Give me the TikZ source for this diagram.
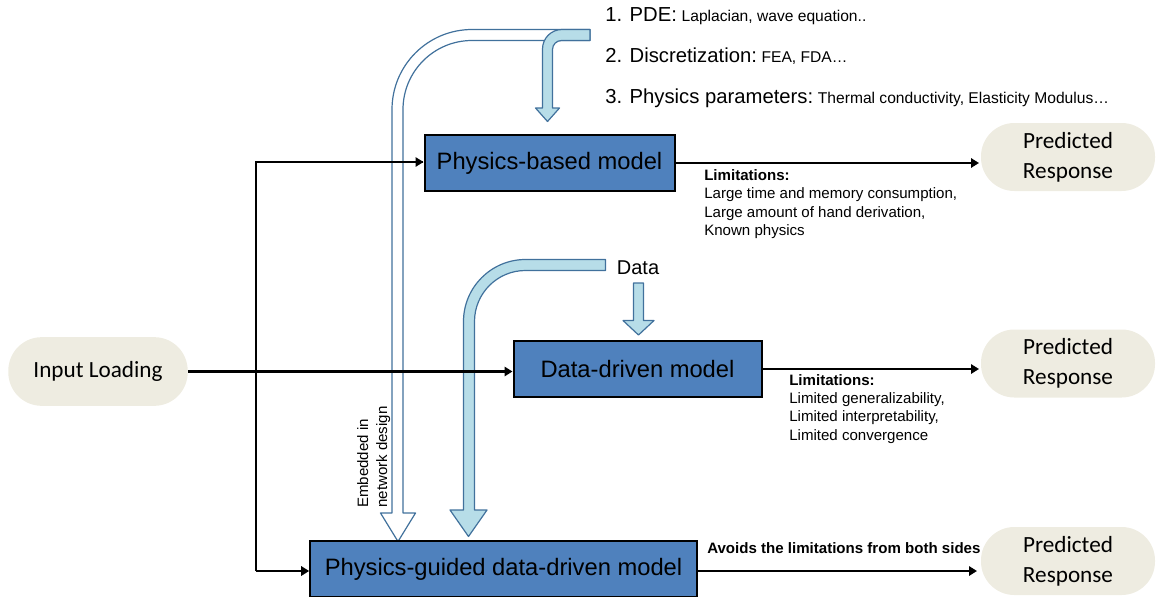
\documentclass[tikz,border=0pt]{standalone}
\usepackage{fontspec}
\setmainfont{Liberation Sans}
\newfontfamily\calibri{Carlito}
\usetikzlibrary{arrows.meta}

\definecolor{boxblue}{HTML}{4F81BD}
\definecolor{pillfill}{HTML}{EEECE1}
\definecolor{feedfill}{HTML}{B7DDE8}
\definecolor{feedline}{HTML}{41719C}

\tikzset{
  modelbox/.style={draw=black, line width=1.5pt, fill=boxblue, inner sep=0pt,
    font=\fontsize{17.8}{21}\selectfont},
  pill/.style={fill=pillfill, rounded corners=25pt, inner sep=0pt,
    minimum height=51.5pt, align=center, font=\calibri\fontsize{17.4}{22.5}\selectfont},
  wire/.style={draw=black, line width=2.1pt},
  conn/.style={wire, -{Triangle[length=6pt,width=7pt]}},
  feed/.style={draw=feedline, line width=0.9pt, line join=round},
  note/.style={anchor=base west, inner sep=0pt, font=\fontsize{11.3}{13.7}\selectfont},
  notebold/.style={note, font=\bfseries\fontsize{11.3}{13.7}\selectfont},
  big/.style={font=\fontsize{15.2}{18}\selectfont},
}
\newcommand{\smalltxt}[1]{\hspace{3.5pt}{\fontsize{11.7}{14}\selectfont #1}}

\begin{document}
\begin{tikzpicture}[x=0.75pt, y=-0.75pt]
\useasboundingbox (0,0) rectangle (1159,596);

% --- physics knowledge carried into the network design (hollow bent arrow)
\draw[feed, fill=white]
  (590,29.5) -- (472,29.5) arc[start angle=270, end angle=180, radius=80]
  -- (392,513) -- (380.5,513) -- (398,541.5) -- (415.5,513) -- (403,513)
  -- (403,109.5) arc[start angle=180, end angle=270, radius=69]
  -- (590,40.5) -- cycle;

% --- physics knowledge feeding the physics-based model
\draw[feed, fill=feedfill]
  (590,29.5) -- (562,29.5) arc[start angle=270, end angle=180, radius=19.5]
  -- (542.5,108) -- (535.5,108) -- (547.5,121.5) -- (559.5,108) -- (552.5,108)
  -- (552.5,49.5) arc[start angle=180, end angle=270, radius=9]
  -- (590,40.5) -- cycle;

% --- data routed into the physics-guided model
\draw[feed, fill=feedfill]
  (605.5,259.5) -- (525.5,259.5) arc[start angle=270, end angle=180, radius=62]
  -- (463.5,510) -- (450,510) -- (468.5,536.5) -- (487,510) -- (474.5,510)
  -- (474.5,321.5) arc[start angle=180, end angle=270, radius=51]
  -- (605.5,270.5) -- cycle;

% --- data feeding the data-driven model
\draw[feed, fill=feedfill]
  (633.5,283) -- (633.5,320.5) -- (623,320.5) -- (638.5,335) -- (654,320.5)
  -- (643.5,320.5) -- (643.5,283) -- cycle;

% --- models
\node[modelbox, minimum width=187.5pt, minimum height=42pt] (phys) at (549.5,163) {Physics-based model};
\node[modelbox, minimum width=186pt, minimum height=41.5pt] (dd) at (637.5,369) {Data-driven model};
\node[modelbox, minimum width=290pt, minimum height=42pt] (pgdd) at (503.5,569) {Physics-guided data-driven model};

% --- input and outputs
\node[pill, minimum width=134.5pt] (input) at (98,371.5) {Input Loading};
\node[pill, minimum width=130.5pt, minimum height=51pt] (pred1) at (1068,157) {Predicted\\Response};
\node[pill, minimum width=130.5pt, minimum height=51pt] (pred2) at (1068,363.5) {Predicted\\Response};
\node[pill, minimum width=130.5pt, minimum height=51pt] (pred3) at (1068,561) {Predicted\\Response};

% --- connectors
\coordinate (jtop) at (256,162);
\coordinate (jbot) at (256,571);
\coordinate (o1) at (979,163);
\coordinate (o2) at (979,369);
\coordinate (o3) at (977,571);
\draw[wire, line join=miter] (jbot) -- (jtop) -- ([xshift=-0.5pt]jtop -| phys.west);
\draw[conn] (jtop) -- (jtop -| phys.west);
\draw[conn] (jbot) -- (jbot -| pgdd.west);
\draw[conn] (input.east) -- (input.east -| dd.west);
\draw[conn] (phys.east) -- (o1);
\draw[conn] (dd.east) -- (o2);
\draw[conn] (pgdd.east |- o3) -- (o3);

% --- prior physics knowledge
\node[anchor=base west, inner sep=0pt, big] (k1) at (605,21.7) {1. PDE:\smalltxt{Laplacian, wave equation..}};
\node[anchor=base west, inner sep=0pt, big] (k2) at (605,62.7) {2. Discretization:\smalltxt{FEA, FDA…}};
\node[anchor=base west, inner sep=0pt, big] (k3) at (605,103.3) {3. Physics parameters:\smalltxt{Thermal conductivity, Elasticity Modulus…}};

\node[anchor=base, inner sep=0pt, font=\fontsize{15}{18}\selectfont] (datalbl) at (638,274) {Data};

% --- limitations
\node[notebold] (l1h) at (704,180.5) {Limitations:};
\node[note] (l1a) at (704,198.8) {Large time and memory consumption,};
\node[note] (l1b) at (704,217) {Large amount of hand derivation,};
\node[note] (l1c) at (704,235.3) {Known physics};

\node[notebold] (l2h) at (789,385.3) {Limitations:};
\node[note] (l2a) at (789,403.5) {Limited generalizability,};
\node[note] (l2b) at (789,421.8) {Limited interpretability,};
\node[note] (l2c) at (789,440) {Limited convergence};

\node[notebold] (l3h) at (707,553.5) {Avoids the limitations from both sides};

% --- label on the hollow arrow
\node[note, rotate=90] (emb1) at (368,508) {Embedded in};
\node[note, rotate=90] (emb2) at (387,508) {network design};
\end{tikzpicture}
\end{document}
